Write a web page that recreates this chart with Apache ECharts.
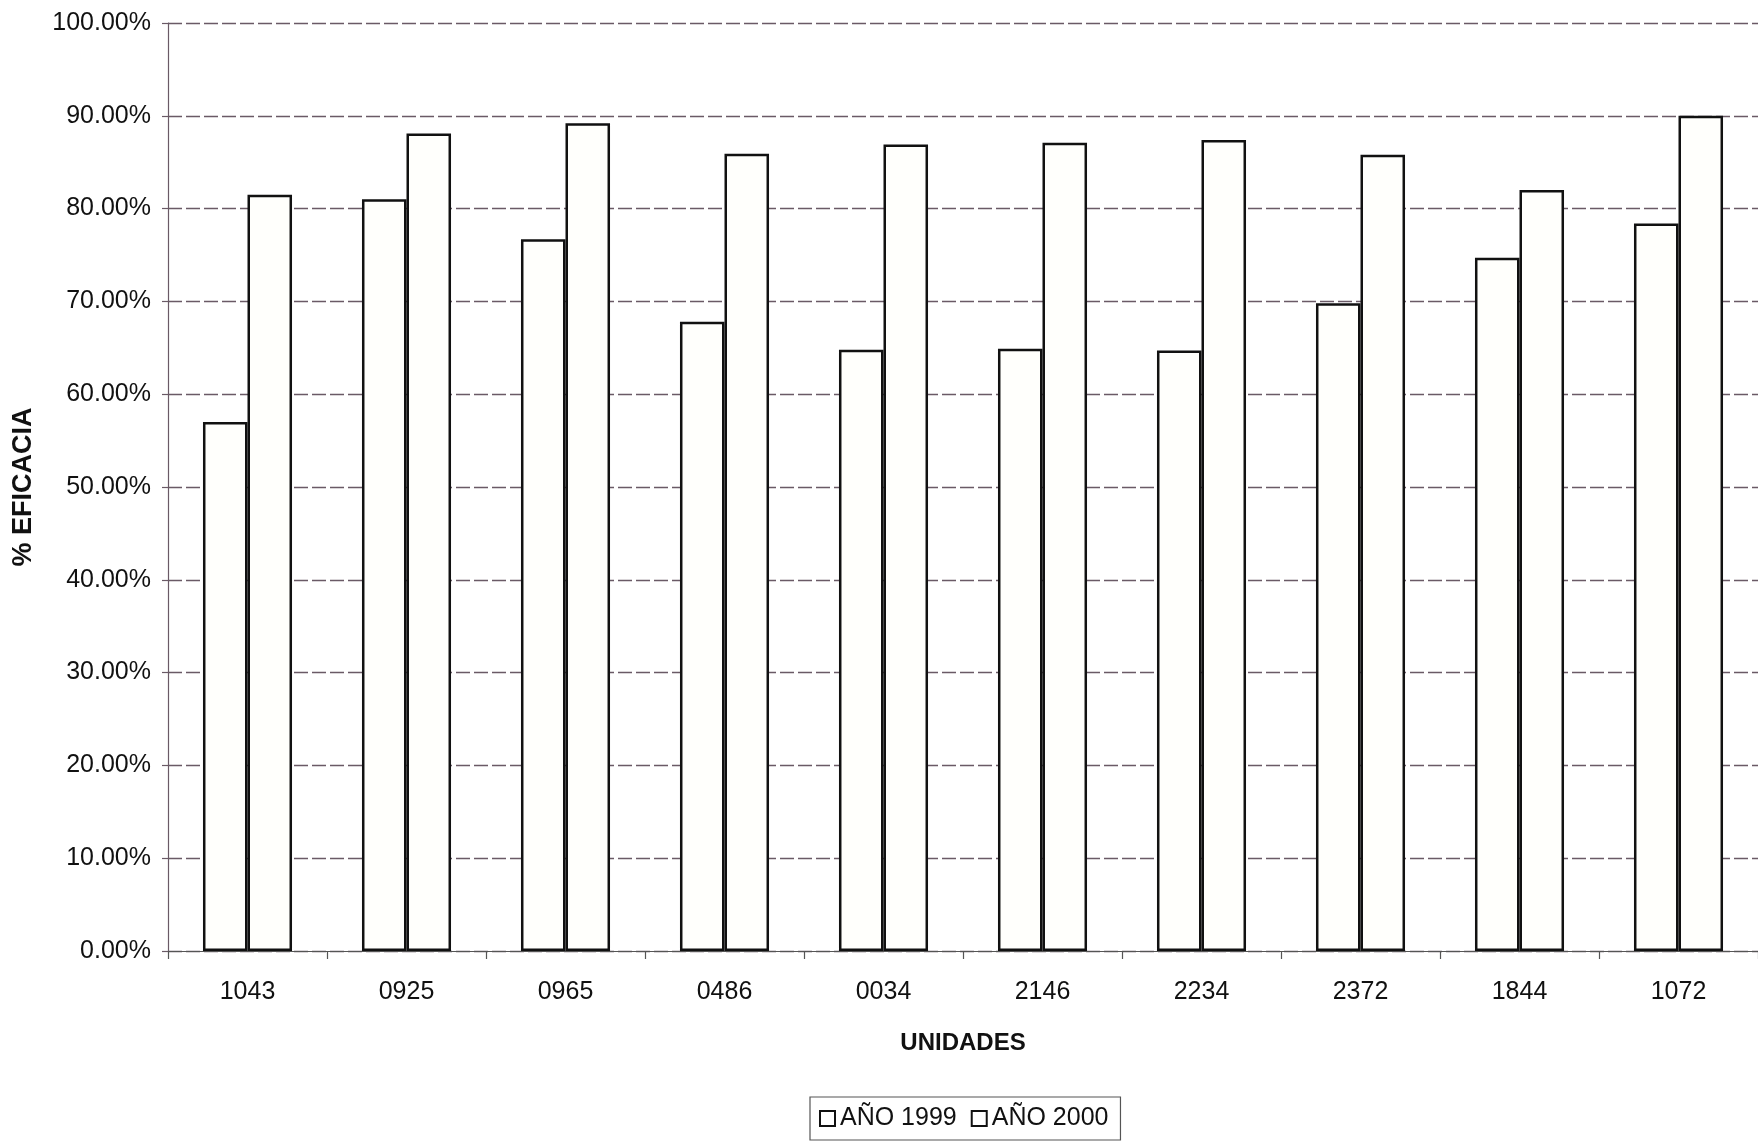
<!DOCTYPE html>
<html>
<head>
<meta charset="utf-8">
<title>% Eficacia por unidad</title>
<script src="https://cdn.jsdelivr.net/npm/echarts@6/dist/echarts.min.js"></script>
<style>
  html, body { margin: 0; padding: 0; background: #ffffff; }
  #chart { width: 1758px; height: 1143px; }
</style>
</head>
<body>
<div id="chart"></div>
<script>
// Unidades evaluadas
const unidades = ['1043', '0925', '0965', '0486', '0034', '2146', '2234', '2372', '1844', '1072'];

// % de eficacia por año
const anio1999 = [57.0, 81.0, 76.7, 67.8, 64.8, 64.9, 64.7, 69.8, 74.7, 78.4];
const anio2000 = [81.5, 88.1, 89.2, 85.9, 86.9, 87.1, 87.4, 85.8, 82.0, 90.0];

const nombres = ['AÑO 1999', 'AÑO 2000'];

const FONT = '"Liberation Sans", Arial, Helvetica, sans-serif';
const INK = '#111111';
const GRID = '#6a5a66';

const chart = echarts.init(document.getElementById('chart'), null, { renderer: 'canvas' });

const barStyle = {
  color: '#fffffc',
  borderColor: INK,
  borderWidth: 2.5
};

chart.setOption({
  backgroundColor: '#ffffff',
  animation: false,
  grid: {
    left: 168, right: 0, top: 23, bottom: 192,
    containLabel: false,
    outerBoundsMode: 'none'
  },
  legend: {
    data: nombres,
    left: 810,
    top: 1097,
    orient: 'horizontal',
    padding: [9, 12, 9, 9],
    itemGap: 14,
    itemWidth: 15,
    itemHeight: 15,
    icon: 'rect',
    borderColor: '#555555',
    borderWidth: 1.2,
    itemStyle: { color: '#ffffff', borderColor: INK, borderWidth: 2 },
    textStyle: { fontFamily: FONT, fontSize: 25, color: INK, padding: [0, 0, 0, 0] }
  },
  xAxis: {
    type: 'category',
    data: unidades,
    name: 'UNIDADES',
    nameLocation: 'middle',
    nameGap: 80,
    nameTextStyle: { fontFamily: FONT, fontSize: 24, fontWeight: 'bold', color: INK },
    axisLine: { show: true, lineStyle: { color: '#555555', width: 1.2 } },
    axisTick: { show: true, alignWithLabel: false, length: 8, lineStyle: { color: '#555555', width: 1.2 } },
    axisLabel: { fontFamily: FONT, fontSize: 25, color: INK, margin: 29 },
    splitLine: { show: false }
  },
  yAxis: {
    type: 'value',
    min: 0,
    max: 100,
    interval: 10,
    name: '% EFICACIA',
    nameLocation: 'middle',
    nameGap: 131,
    nameRotate: 90,
    nameTextStyle: { fontFamily: FONT, fontSize: 27, fontWeight: 'bold', color: INK },
    axisLine: { show: true, lineStyle: { color: GRID, width: 1.2 } },
    axisTick: { show: true, length: 6, lineStyle: { color: GRID, width: 1.2 } },
    axisLabel: {
      fontFamily: FONT, fontSize: 25, color: INK, margin: 17,
      formatter: v => v.toFixed(2) + '%'
    },
    splitLine: { show: true, lineStyle: { color: GRID, width: 1.3, type: [14, 4] } }
  },
  series: [
    {
      name: nombres[0],
      type: 'bar',
      data: anio1999,
      barGap: '0%',
      barCategoryGap: '44%',
      itemStyle: barStyle
    },
    {
      name: nombres[1],
      type: 'bar',
      data: anio2000,
      barGap: '0%',
      barCategoryGap: '44%',
      itemStyle: barStyle
    }
  ]
});
</script>
</body>
</html>
